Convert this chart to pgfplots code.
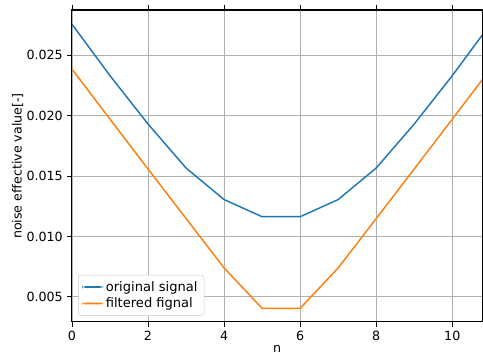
\documentclass[border=0pt]{standalone}
\usepackage{fontspec}
\setmainfont{DejaVu Sans}
\usepackage{pgfplots}
\pgfplotsset{compat=1.18}
\definecolor{mplblue}{HTML}{1F77B4}
\definecolor{mplorange}{HTML}{FF7F0E}
\begin{document}
\fontsize{9.5pt}{11pt}\selectfont
\begin{tikzpicture}
\begin{axis}[
  name=ax,
  scale only axis,
  width=308pt, height=234pt,
  xmin=0, xmax=10.79,
  ymin=0.00293, ymax=0.02872,
  xtick={0,2,4,6,8,10},
  ytick={0.005,0.010,0.015,0.020,0.025},
  scaled y ticks=false,
  yticklabel style={/pgf/number format/.cd,fixed,fixed zerofill,precision=3},
  /pgf/number format/assume math mode=true,
  tick align=outside,
  tick style={black, line width=0.6pt},
  major tick length=3.5pt,
  grid=major,
  grid style={color=black!31, line width=0.6pt},
  axis line style={black, line width=0.8pt},
  xlabel={n},
  ylabel={noise effective value[-]},
  xlabel style={yshift=3pt},
  ylabel style={yshift=-4pt},
  legend cell align=left,
  legend style={draw=black!20, rounded corners=2pt, fill=white, font=\fontsize{9.8pt}{11pt}\selectfont, inner xsep=3pt, inner ysep=2.5pt, row sep=-0.5pt, at={(0.015,0.02)}, anchor=south west},
  legend image code/.code={\fill[#1, draw=none] (0cm,-0.6pt) rectangle (0.55cm,0.6pt);},
  every axis plot/.append style={line width=1.1pt},
]
\addplot[mplblue] coordinates {
(0,0.02756) (1,0.02330) (2,0.01930) (3,0.01566) (4,0.01305) (5,0.01163) (6,0.01163) (7,0.01305) (8,0.01566) (9,0.01930) (10,0.02330) (11,0.02756)
};
\addlegendentry{original signal}
\addplot[mplorange] coordinates {
(0,0.02384) (1,0.01970) (2,0.01558) (3,0.01148) (4,0.00740) (5,0.00405) (6,0.00405) (7,0.00740) (8,0.01148) (9,0.01558) (10,0.01970) (11,0.02384)
};
\addlegendentry{filtered fignal}
\coordinate (bl) at (rel axis cs:0,0);
\coordinate (tr) at (rel axis cs:1,1);
\coordinate (tl) at (rel axis cs:0,1);
\coordinate (br) at (rel axis cs:1,0);
\end{axis}
\fill[black] ([shift={(-0.4pt,-0.6pt)}]tl) rectangle ([shift={(0.4pt,0.6pt)}]tr);
\fill[black] ([shift={(-0.4pt,-0.4pt)}]br) rectangle ([shift={(0.4pt,0.4pt)}]tr);
\pgfresetboundingbox
\path[use as bounding box] ([shift={(-54pt,-25.5pt)}]bl) rectangle ([shift={(0.5pt,7.6pt)}]tr);
\end{tikzpicture}
\end{document}
